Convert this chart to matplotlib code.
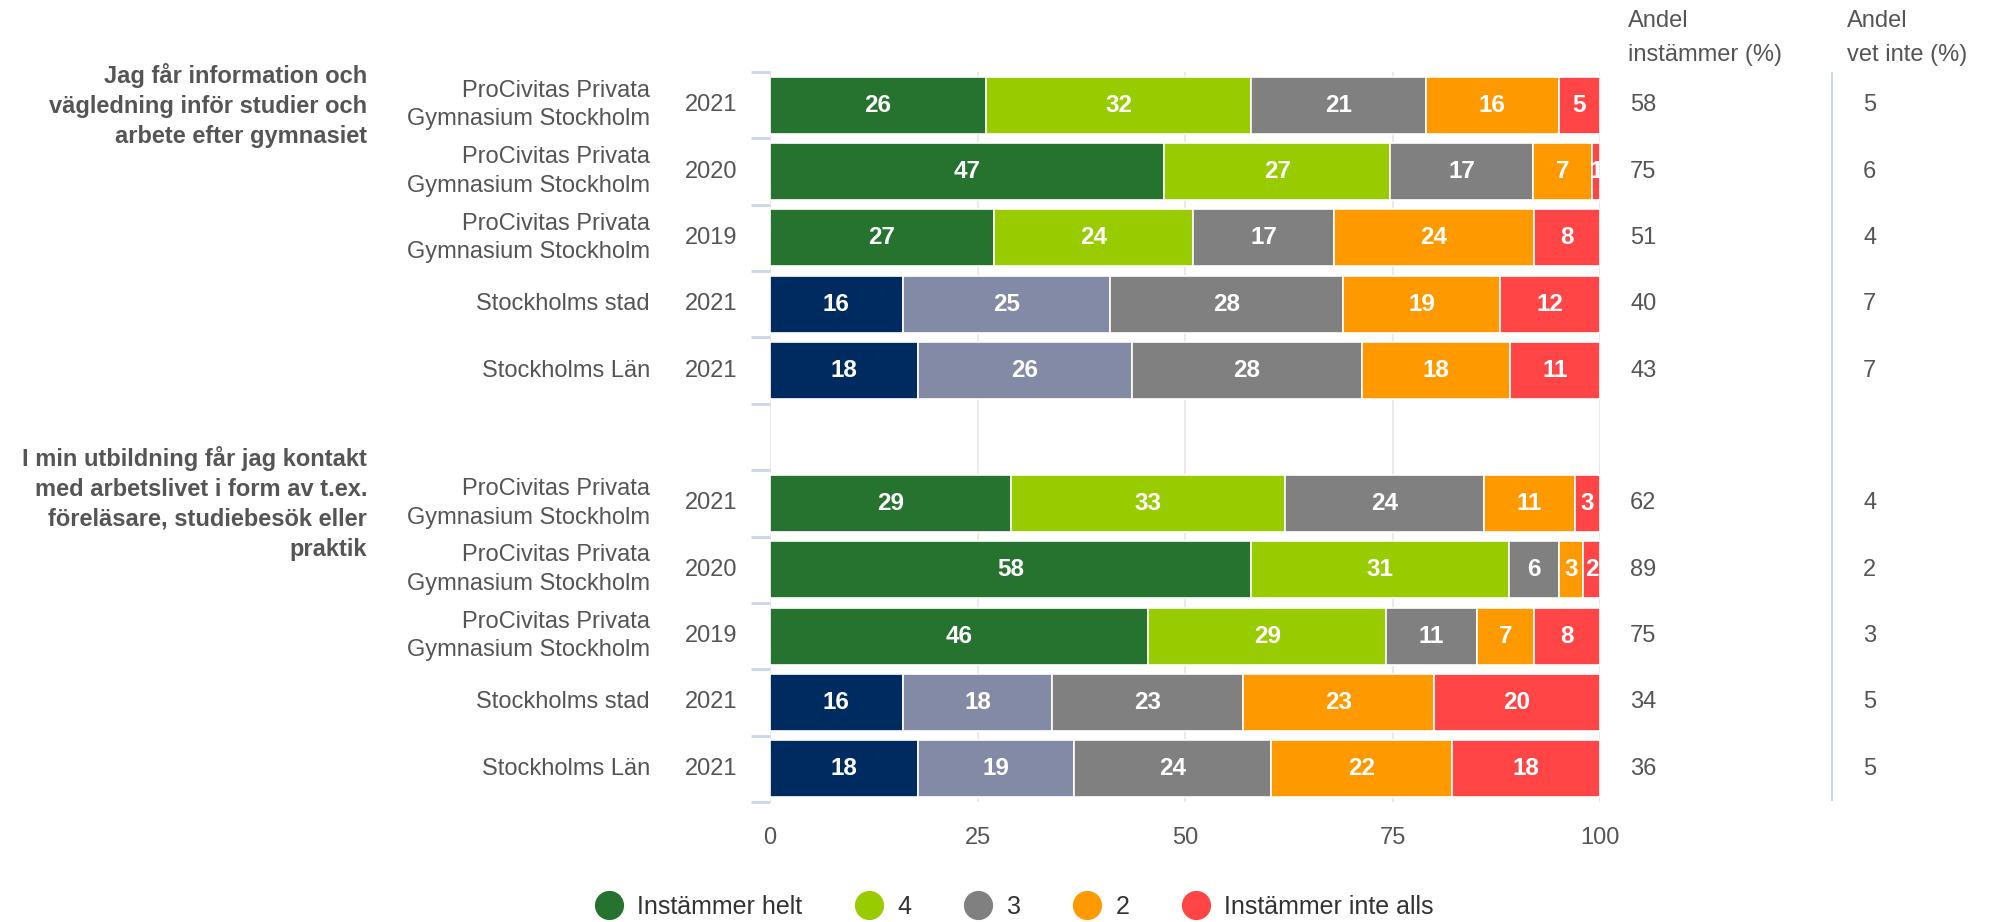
import matplotlib
matplotlib.use('Agg')
import matplotlib.pyplot as plt
import matplotlib.transforms as mtransforms
from matplotlib.lines import Line2D
import numpy as np

plt.rcParams['font.family'] = ['Liberation Sans', 'DejaVu Sans']

# ---- data
questions = ['Jag får information och\nvägledning inför studier och\narbete efter gymnasiet',
             'I min utbildning får jag kontakt\nmed arbetslivet i form av t.ex.\nföreläsare, studiebesök eller\npraktik']
units = ['ProCivitas Privata\nGymnasium Stockholm'] * 3 + ['Stockholms stad', 'Stockholms Län']
years = ['2021', '2020', '2019', '2021', '2021']
series_names = ['Instämmer helt', '4', '3', '2', 'Instämmer inte alls']

q1_values = [[26, 32, 21, 16, 5],
             [47, 27, 17, 7, 1],
             [27, 24, 17, 24, 8],
             [16, 25, 28, 19, 12],
             [18, 26, 28, 18, 11]]
q2_values = [[29, 33, 24, 11, 3],
             [58, 31, 6, 3, 2],
             [46, 29, 11, 7, 8],
             [16, 18, 23, 23, 20],
             [18, 19, 24, 22, 18]]

q1_instammer = [58, 75, 51, 40, 43]
q1_vet_inte = [5, 6, 4, 7, 7]
q2_instammer = [62, 89, 75, 34, 36]
q2_vet_inte = [4, 2, 3, 5, 5]

school_colors = ['#267330', '#99cc00', '#808080', '#ff9900', '#ff4545']
region_colors = ['#002b60', '#828aa6', '#808080', '#ff9900', '#ff4545']
row_is_school = [True, True, True, False, False]

txt = '#555555'
fs = 17

fig = plt.figure(figsize=(19.94, 9.22), dpi=100)
ax = fig.add_axes([770 / 1994, 1 - 802 / 922, 830 / 1994, 730 / 922])

trans = mtransforms.blended_transform_factory(fig.transFigure, ax.transData)

groups = [(questions[0], q1_values, q1_instammer, q1_vet_inte, 0),
          (questions[1], q2_values, q2_instammer, q2_vet_inte, 6)]

for qtext, vals, inst, vet, y0 in groups:
    ax.text(367 / 1994, y0, qtext, transform=trans, ha='right', va='center',
            fontsize=fs, fontweight='bold', color=txt, linespacing=1.38)
    for i, row in enumerate(vals):
        y = y0 + i
        cols = school_colors if row_is_school[i] else region_colors
        total = float(sum(row))
        left = 0.0
        for v, c in zip(row, cols):
            w = v / total * 100
            ax.barh(y, w, left=left, height=0.86, color=c, edgecolor='white',
                    linewidth=1.2, zorder=3)
            ax.text(left + w / 2, y, str(v), ha='center', va='center', color='white',
                    fontsize=fs + 0.5, fontweight='bold', zorder=4)
            left += w
        ax.text(650 / 1994, y, units[i], transform=trans, ha='right', va='center',
                fontsize=fs, color=txt, linespacing=1.38)
        ax.text(737 / 1994, y, years[i], transform=trans, ha='right', va='center',
                fontsize=fs, color=txt)
        ax.text(1630 / 1994, y, str(inst[i]), transform=trans, ha='left', va='center',
                fontsize=fs, color=txt)
        ax.text(1863 / 1994, y, str(vet[i]), transform=trans, ha='left', va='center',
                fontsize=fs, color=txt)

ax.set_xlim(0, 100)
ax.set_ylim(10.5, -0.5)
ax.set_xticks([0, 25, 50, 75, 100])
ax.tick_params(axis='x', length=0, pad=18, labelsize=fs, labelcolor=txt)
ax.set_yticks(np.arange(-0.5, 11, 1))
ax.set_yticklabels([])
ax.tick_params(axis='y', length=14, width=2, color='#ccd6eb')
ax.xaxis.grid(True, color='#e6e6e6', linewidth=1.2)
ax.set_axisbelow(True)
for s in ax.spines.values():
    s.set_visible(False)

# column headers and separator
fig.text(1628 / 1994, 1 - 38 / 922, 'Andel\ninstämmer (%)', ha='left', va='center',
         fontsize=fs, color=txt, linespacing=1.65)
fig.text(1847 / 1994, 1 - 38 / 922, 'Andel\nvet inte (%)', ha='left', va='center',
         fontsize=fs, color=txt, linespacing=1.65)
fig.add_artist(Line2D([1832 / 1994, 1832 / 1994], [1 - 73 / 922, 1 - 800 / 922],
                      transform=fig.transFigure, color='#ccd6eb', linewidth=1.5))

handles = [Line2D([], [], marker='o', ls='', markersize=20, markerfacecolor=c,
                  markeredgecolor=c) for c in school_colors]
fig.legend(handles, series_names, loc='center', bbox_to_anchor=(1015 / 1994, 1 - 907 / 922),
           ncol=5, frameon=False, fontsize=18, handlelength=1.0, handletextpad=0.65,
           columnspacing=2.15, labelcolor='#333333')

fig.savefig('out.png', dpi=100, facecolor='white')
